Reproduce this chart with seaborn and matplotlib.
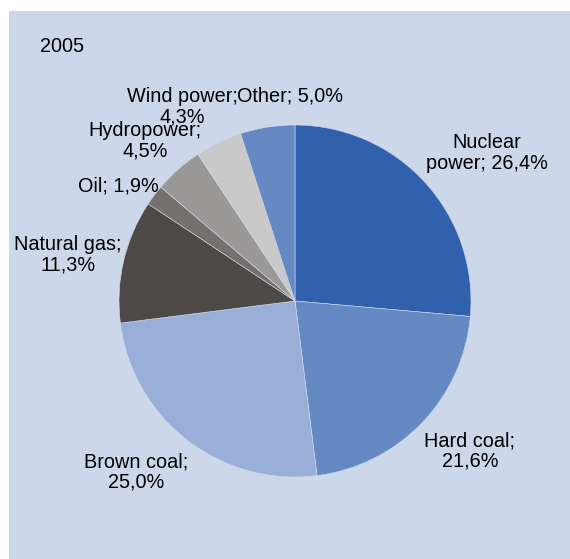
import matplotlib
matplotlib.use("Agg")
import matplotlib.pyplot as plt
import seaborn as sns
from matplotlib.patches import Rectangle

# data, clockwise from 12 o'clock
sources = ['Nuclear power', 'Hard coal', 'Brown coal', 'Natural gas',
           'Oil', 'Hydropower', 'Wind power', 'Other']
shares = [26.4, 21.6, 25.0, 11.3, 1.9, 4.5, 4.3, 5.0]
label_texts = ['Nuclear\npower; 26,4%', 'Hard coal;\n21,6%', 'Brown coal;\n25,0%',
               'Natural gas;\n11,3%', 'Oil; 1,9%', 'Hydropower;\n4,5%',
               'Wind power;\n4,3%', 'Other; 5,0%']
year = '2005'

colors = ['#3161AD', '#6589C2', '#99AFD7', '#4D4947',
          '#73706D', '#9A9997', '#C9C9C9', '#6689C3']
# label centres in pixel coords (x from left, y from top)
label_pos = [(487, 153), (470, 451), (136, 472), (68, 255),
             (118, 186), (145, 141), (182, 107), (290, 96)]

sns.set_theme(style='white')
plt.rcParams['font.family'] = ['Liberation Sans', 'DejaVu Sans']

W, H = 570, 559
fig = plt.figure(figsize=(W / 100, H / 100), dpi=100)
fig.patch.set_facecolor('white')
ax = fig.add_axes([0, 0, 1, 1])

ax.add_patch(Rectangle((9, 0), W - 9, H - 11, facecolor='#CCD7EA',
                       edgecolor='none', zorder=0))

ax.pie(shares, colors=sns.color_palette(colors), startangle=90, counterclock=False,
       center=(295, H - 301), radius=176, frame=True,
       wedgeprops=dict(edgecolor='#D3DBEA', linewidth=0.4))
ax.set_xlim(0, W)
ax.set_ylim(0, H)
ax.set_aspect('auto')
ax.axis('off')

for txt, (x, y) in zip(label_texts, label_pos):
    ax.text(x, H - y, txt, ha='center', va='center', fontsize=14.3,
            color='black', linespacing=1.1)

ax.text(40, H - 46, year, ha='left', va='center', fontsize=14.3, color='black')

fig.savefig('out.png', dpi=100, facecolor='white')
